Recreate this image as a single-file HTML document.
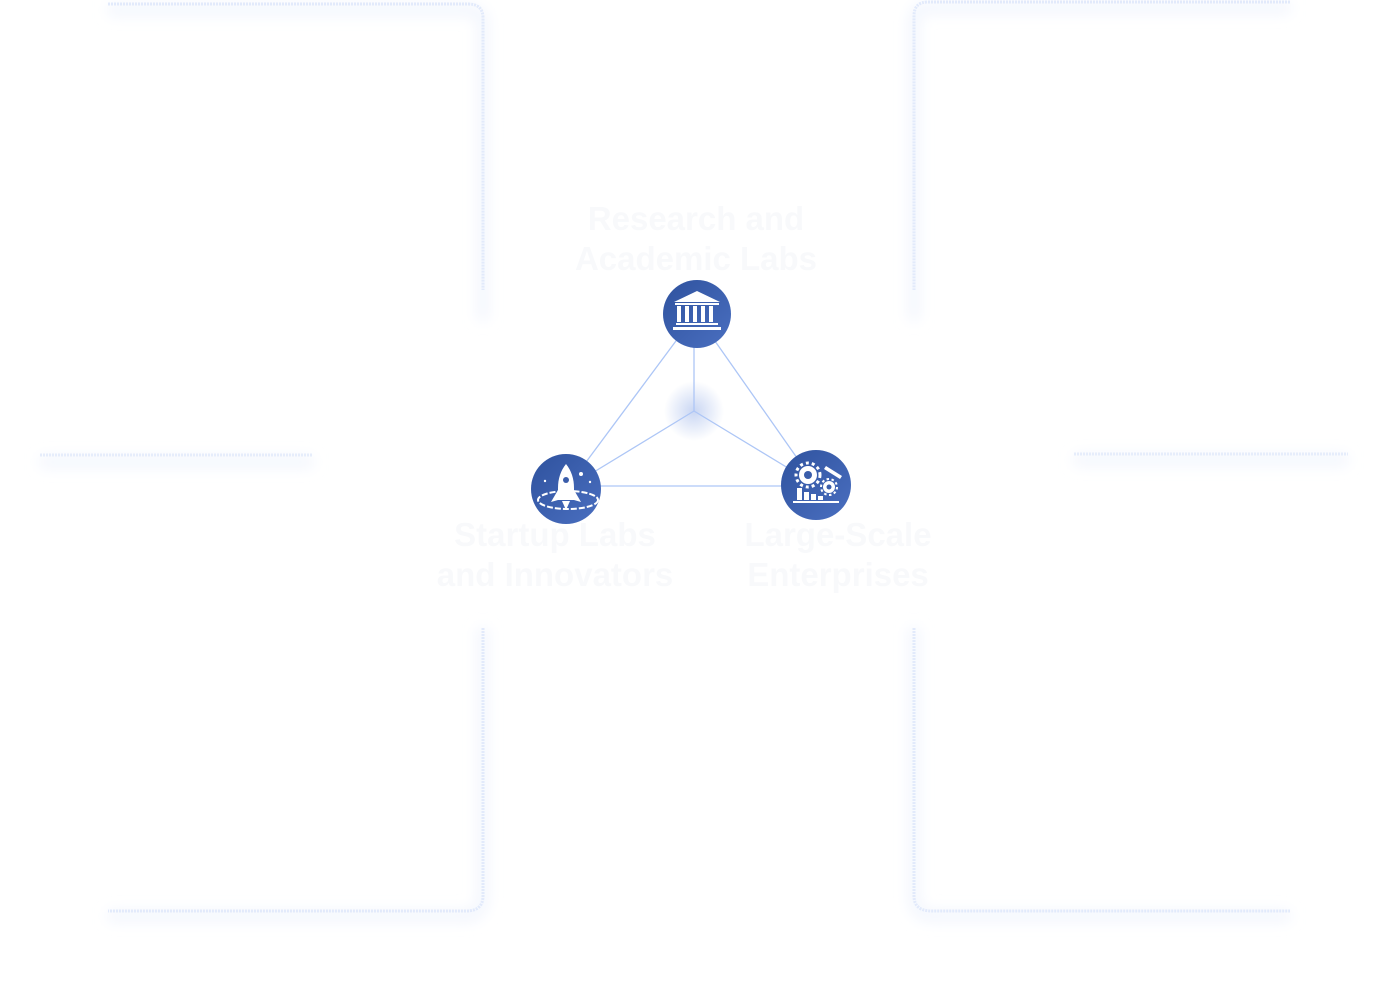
<!DOCTYPE html>
<html><head><meta charset="utf-8"><style>
html,body{margin:0;padding:0;background:#fff;}
body{width:1388px;height:1000px;position:relative;overflow:hidden;font-family:"Liberation Sans",sans-serif;}
.lbl{position:absolute;color:#f8f9fb;font-size:33px;font-weight:bold;text-align:center;line-height:40px;white-space:nowrap;}
</style></head><body>
<svg width="1388" height="1000" style="position:absolute;left:0;top:0">
<defs>
<filter id="b" x="-20%" y="-20%" width="140%" height="140%"><feGaussianBlur stdDeviation="7"/></filter>
<radialGradient id="cg"><stop offset="0" stop-color="#c9d6f3"/><stop offset="1" stop-color="#c9d6f3" stop-opacity="0"/></radialGradient>
<linearGradient id="cc" x1="0" y1="0" x2="1" y2="1"><stop offset="0" stop-color="#2f529e"/><stop offset="1" stop-color="#4a6fc0"/></linearGradient>
</defs>
<g fill="none" stroke-width="3">
<g filter="url(#b)" stroke="#f0f4fd" stroke-width="10">
<path d="M108 10 H468 Q483 10 483 24 V320"/>
<path d="M1290 8 H928 Q914 8 914 22 V320"/>
<path d="M40 462 H313"/><path d="M1074 460 H1348"/>
<path d="M483 628 V896 Q483 916 466 916 H108"/>
<path d="M914 628 V896 Q914 916 932 916 H1290"/>
</g>
<path d="M108 4 H468 Q483 4 483 18 V290" stroke="#e2eafb" stroke-dasharray="2 1"/>
<path d="M1290 2 H928 Q914 2 914 16 V290" stroke="#e2eafb" stroke-dasharray="2 1"/>
<path d="M40 455 H313" stroke="#e6edfb" stroke-dasharray="2 1"/>
<path d="M1074 454 H1348" stroke="#e6edfb" stroke-dasharray="2 1"/>
<path d="M483 628 V896 Q483 911 466 911 H108" stroke="#e2eafb" stroke-dasharray="2 1"/>
<path d="M914 628 V896 Q914 911 932 911 H1290" stroke="#e2eafb" stroke-dasharray="2 1"/>
</g>
<circle cx="694" cy="411" r="30" fill="url(#cg)"/>
<g stroke="#adc6f6" stroke-width="1.3" fill="none">
<line x1="696" y1="314" x2="566" y2="489"/>
<line x1="696" y1="314" x2="816" y2="485"/>
<line x1="566" y1="486" x2="816" y2="486"/>
<line x1="694" y1="346" x2="694" y2="411"/>
<line x1="694" y1="411" x2="566" y2="489"/>
<line x1="694" y1="411" x2="816" y2="485"/>
</g>
<circle cx="697" cy="314" r="34" fill="url(#cc)"/>
<g fill="#fff">
<polygon points="697,291 674,302 720,302"/>
<rect x="675" y="303" width="44" height="2"/>
<rect x="677" y="306" width="4" height="16"/><rect x="685" y="306" width="4" height="16"/><rect x="693" y="306" width="4" height="16"/><rect x="701" y="306" width="4" height="16"/><rect x="709" y="306" width="4" height="16"/>
<rect x="676" y="323" width="42" height="2"/><rect x="673" y="327" width="48" height="3"/>
</g>
<circle cx="566" cy="489" r="35" fill="url(#cc)"/>
<g fill="#fff">
<path d="M566 464 Q558 474 558 488 L558 500 L574 500 L574 488 Q574 474 566 464Z"/>
<circle cx="566" cy="480" r="3" fill="#3a5daa"/>
<path d="M558 490 L551 502 L558 500Z"/><path d="M574 490 L581 502 L574 500Z"/>
<path d="M562 501 L566 510 L570 501Z"/>
<ellipse cx="568" cy="500" rx="30" ry="9" fill="none" stroke="#fff" stroke-width="2" stroke-dasharray="6 2"/>
<circle cx="581" cy="474" r="2"/><circle cx="545" cy="481" r="1.2"/><circle cx="590" cy="482" r="1.2"/>
</g>
<circle cx="816" cy="485" r="35" fill="url(#cc)"/>
<g fill="#fff">
<circle cx="808" cy="475" r="9"/><circle cx="808" cy="475" r="4" fill="#3a5daa"/>
<circle cx="808" cy="475" r="12" fill="none" stroke="#fff" stroke-width="3" stroke-dasharray="3 3"/>
<circle cx="829" cy="487" r="6"/><circle cx="829" cy="487" r="2.5" fill="#3a5daa"/>
<circle cx="829" cy="487" r="8" fill="none" stroke="#fff" stroke-width="2" stroke-dasharray="2.5 2.5"/>
<path d="M826 466 L842 476 L840 479 L824 469Z"/>
<rect x="797" y="488" width="5" height="12"/><rect x="804" y="492" width="5" height="8"/><rect x="811" y="494" width="5" height="6"/><rect x="818" y="496" width="5" height="4"/>
<rect x="793" y="501" width="46" height="2"/>
</g>
</svg>
<div class="lbl" style="left:496px;top:199px;width:400px;">Research and<br>Academic Labs</div>
<div class="lbl" style="left:405px;top:515px;width:300px;">Startup Labs<br>and Innovators</div>
<div class="lbl" style="left:688px;top:515px;width:300px;">Large-Scale<br>Enterprises</div>
</body></html>
